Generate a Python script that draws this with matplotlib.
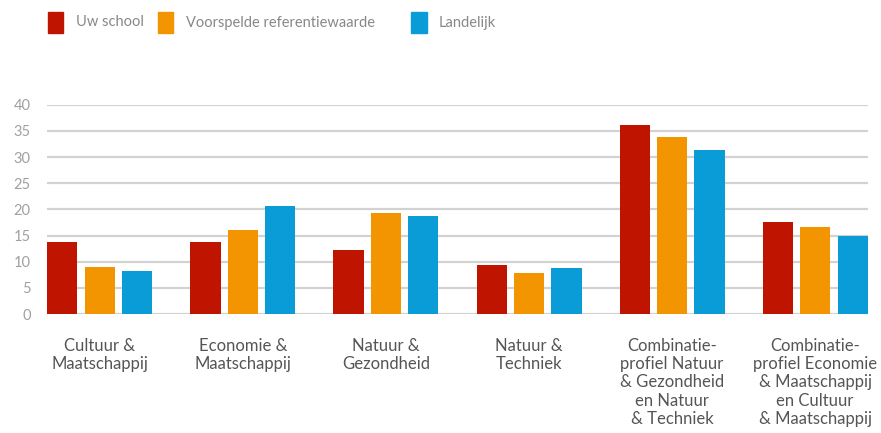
"""Grouped bar chart: uw school vs voorspelde referentiewaarde vs landelijk per profiel
"""
import matplotlib.pyplot as plt
import matplotlib.patches as mpatches
import numpy as np

plt.rcParams['font.family'] = ['Lato', 'DejaVu Sans']

# Data
categories = [
    "Cultuur &\nMaatschappij",
    "Economie &\nMaatschappij",
    "Natuur &\nGezondheid",
    "Natuur &\nTechniek",
    "Combinatie-\nprofiel Natuur\n& Gezondheid\nen Natuur\n& Techniek",
    "Combinatie-\nprofiel Economie\n& Maatschappij\nen Cultuur\n& Maatschappij",
]
uw_school = [13.8, 13.7, 12.3, 9.3, 36.1, 17.6]
referentie = [8.9, 16.0, 19.3, 7.9, 33.8, 16.7]
landelijk = [8.3, 20.7, 18.8, 8.7, 31.3, 15.0]

series_names = ["Uw school", "Voorspelde referentiewaarde", "Landelijk"]
colors = ['#bf1500', '#f29500', '#0a9cd7']
y_ticks = [0, 5, 10, 15, 20, 25, 30, 35, 40]

W, H = 881, 433
fig = plt.figure(figsize=(W / 100, H / 100), dpi=100)
ax = fig.add_axes([47.3 / W, 119 / H, 820.4 / W, 209.3 / H])

x = np.arange(len(categories))
bar_w = 0.21
step = 0.262
for i, (vals, col) in enumerate(zip([uw_school, referentie, landelijk], colors)):
    ax.bar(x + (i - 1) * step, vals, width=bar_w, color=col, zorder=3)

ax.set_xlim(-0.368, len(categories) - 1 + 0.368)
ax.set_ylim(0, 40)
ax.set_yticks(y_ticks)
ax.yaxis.grid(True, color='#d2d2d2', linewidth=1.6, zorder=0)
ax.set_axisbelow(True)
for s in ax.spines.values():
    s.set_visible(False)
ax.tick_params(axis='y', length=0, pad=12, labelsize=10.5, labelcolor='#a0a0a0')
ax.tick_params(axis='x', length=0, pad=17)
ax.set_xticks(x)
ax.set_xticklabels(categories, fontsize=12, color='#555555', linespacing=1.18)

# Legend (manual, as in the reference)
leg_x = [47.5, 157.5, 411]
for lx, name, col in zip(leg_x, series_names, colors):
    fig.add_artist(mpatches.Rectangle((lx / W, (H - 33) / H), 15.5 / W, 21 / H,
                                      transform=fig.transFigure, color=col))
    fig.text((lx + 28) / W, (H - 22.5) / H, name, fontsize=10.5, color='#888888',
             va='center', ha='left')

plt.savefig('out.png', dpi=100)
